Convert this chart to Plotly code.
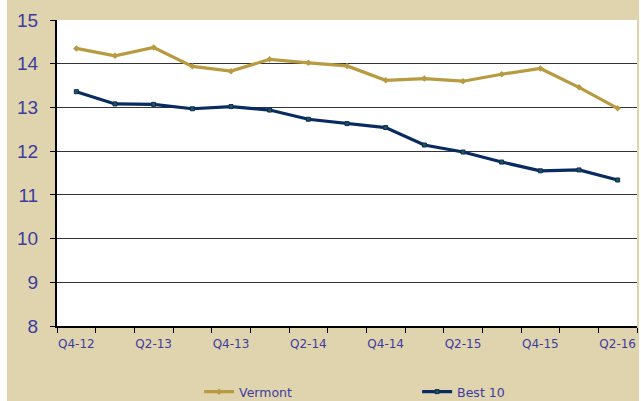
import plotly.graph_objects as go

quarters = ["Q4-12", "Q1-13", "Q2-13", "Q3-13", "Q4-13", "Q1-14", "Q2-14", "Q3-14",
            "Q4-14", "Q1-15", "Q2-15", "Q3-15", "Q4-15", "Q1-16", "Q2-16"]
vermont = [14.35, 14.18, 14.37, 13.94, 13.83, 14.10, 14.02, 13.95,
           13.62, 13.66, 13.60, 13.76, 13.89, 13.46, 12.98]
best10 = [13.36, 13.08, 13.07, 12.97, 13.02, 12.94, 12.73, 12.63,
          12.54, 12.14, 11.98, 11.75, 11.55, 11.57, 11.34]
y_ticks = [8, 9, 10, 11, 12, 13, 14, 15]

GOLD = "#b89a40"
NAVY = "#0a2a62"
TEXT = "#3c3ca0"
BG = "#e0d4ae"

x_idx = list(range(len(quarters)))

fig = go.Figure()
fig.add_trace(go.Scatter(
    x=x_idx, y=vermont, name="Vermont", mode="lines+markers",
    line=dict(color=GOLD, width=3.2),
    marker=dict(symbol="diamond", size=5, color=GOLD),
))
fig.add_trace(go.Scatter(
    x=x_idx, y=best10, name="Best 10", mode="lines+markers",
    line=dict(color=NAVY, width=3.2),
    marker=dict(symbol="square", size=4, color="#1f5a45", line=dict(color=NAVY, width=1)),
))

fig.update_layout(
    width=641, height=401,
    margin=dict(l=57, r=4, t=20, b=75, autoexpand=False),
    paper_bgcolor=BG,
    plot_bgcolor="white",
    font=dict(family="DejaVu Sans", color=TEXT, size=12),
    showlegend=True,
    legend=dict(
        orientation="h", x=0.245, xanchor="left", y=-0.2157, yanchor="middle",
        bgcolor="rgba(0,0,0,0)", entrywidth=173, entrywidthmode="pixels",
        font=dict(family="DejaVu Sans", size=12.5, color=TEXT),
    ),
    xaxis=dict(
        range=[-0.5, len(quarters) - 0.5],
        tickmode="array",
        tickvals=x_idx[::2],
        ticktext=quarters[::2],
        ticks="", showgrid=False, zeroline=False,
        showline=True, linecolor="black", linewidth=2,
        ticklabelstandoff=6,
        tickfont=dict(family="DejaVu Sans", size=12, color=TEXT),
        minor=dict(
            tickmode="array",
            tickvals=[i - 0.5 for i in range(len(quarters) + 1)],
            ticks="outside", ticklen=5, tickcolor="black", tickwidth=1,
            showgrid=False,
        ),
    ),
    yaxis=dict(
        range=[8, 15],
        tickmode="array", tickvals=y_ticks,
        ticks="outside", ticklen=5, tickcolor="black",
        showgrid=True, gridcolor="#333333", gridwidth=1,
        zeroline=False,
        showline=True, linecolor="black", linewidth=2,
        ticklabelstandoff=8,
        tickfont=dict(family="Liberation Sans", size=19, color=TEXT),
    ),
    shapes=[
        dict(type="rect", xref="paper", yref="paper", x0=-0.2, x1=-0.0862, y0=-0.5, y1=1.2,
             fillcolor="white", line=dict(width=0), layer="below"),
        dict(type="rect", xref="paper", yref="paper", x0=1.0035, x1=1.05, y0=-0.5, y1=1.2,
             fillcolor="white", line=dict(width=0), layer="below"),
    ],
)

fig.write_html("out.html", config={"displayModeBar": False},
               post_script="document.body.style.margin='0';document.body.style.overflow='hidden';")
